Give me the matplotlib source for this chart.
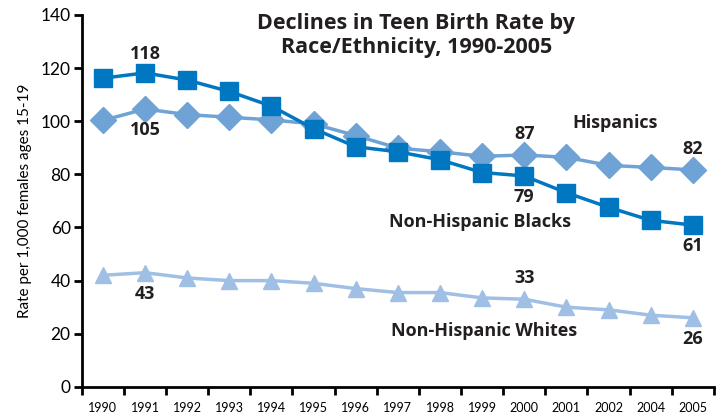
import matplotlib
matplotlib.use("Agg")
import matplotlib.pyplot as plt
import numpy as np

plt.rcParams['font.family'] = ['Lato', 'DejaVu Sans']

years = ["1990", "1991", "1992", "1993", "1994", "1995", "1996", "1997",
         "1998", "1999", "2000", "2001", "2002", "2004", "2005"]
blacks = [116.2, 118.2, 115.5, 111.2, 105.7, 97.2, 90.4, 88.5, 85.5, 80.7,
          79.4, 73.1, 67.6, 62.7, 60.9]
hispanics = [100.3, 104.6, 102.5, 101.5, 100.5, 99.0, 94.6, 89.9, 88.5, 86.8,
             87.3, 86.4, 83.4, 82.6, 81.7]
whites = [42.0, 43.0, 41.0, 40.0, 40.0, 39.0, 37.0, 35.5, 35.5, 33.5,
          33.0, 30.0, 29.0, 27.0, 26.0]

c_black = "#0077c0"
c_hisp = "#6fa3d6"
c_white = "#a0bfe4"

fig = plt.figure(figsize=(7.24, 4.16), dpi=100)
ax = fig.add_axes([0.113, 0.07, 0.873, 0.894])

x = np.arange(len(years))
ax.plot(x, whites, color=c_white, lw=2.5, marker="^", ms=12, zorder=2)
ax.plot(x, hispanics, color=c_hisp, lw=2.5, marker="D", ms=13, zorder=3)
ax.plot(x, blacks, color=c_black, lw=2.5, marker="s", ms=12.5, zorder=4)

ax.set_xlim(-0.5, len(years) - 0.5)
ax.set_ylim(0, 140)
ax.set_yticks(range(0, 141, 20))
ax.tick_params(axis="y", labelsize=12.5, width=2, length=6, pad=2)

# tick marks sit between categories, labels under categories
ax.set_xticks(np.arange(len(years) + 1) - 0.5)
ax.set_xticklabels([])
ax.set_xticks(x, minor=True)
ax.set_xticklabels(years, minor=True, fontsize=9)
ax.tick_params(axis="x", which="major", width=2, length=6)
ax.tick_params(axis="x", which="minor", length=0, pad=11)

for s in ["top", "right"]:
    ax.spines[s].set_visible(False)
for s in ["left", "bottom"]:
    ax.spines[s].set_linewidth(2)

ax.set_ylabel("Rate per 1,000 females ages 15-19", fontsize=11, labelpad=6)

bold = dict(fontsize=13, fontweight="bold", ha="center", color="#231f20",
            family=["Open Sans", "DejaVu Sans"])
ax.text(1, blacks[1] + 7, "118", va="center", **bold)
ax.text(1, hispanics[1] - 8, "105", va="center", **bold)
ax.text(10, hispanics[10] + 8, "87", va="center", **bold)
ax.text(10, blacks[10] - 8, "79", va="center", **bold)
ax.text(14, hispanics[14] + 8, "82", va="center", **bold)
ax.text(14, blacks[14] - 8, "61", va="center", **bold)
ax.text(1, whites[1] - 8, "43", va="center", **bold)
ax.text(10, whites[10] + 8, "33", va="center", **bold)
ax.text(14, whites[14] - 8, "26", va="center", **bold)

ax.text(12.16, 99.4, "Hispanics", va="center", **bold)
ax.text(8.95, 62, "Non-Hispanic Blacks", va="center", **bold)
ax.text(9.05, 21, "Non-Hispanic Whites", va="center", **bold)

fig.text(0.575, 0.915, "Declines in Teen Birth Rate by\nRace/Ethnicity, 1990-2005",
         ha="center", va="center", fontsize=15.5, fontweight="bold",
         color="#231f20", linespacing=1.15, family=["Open Sans", "DejaVu Sans"])

fig.savefig("out.png", dpi=100)
